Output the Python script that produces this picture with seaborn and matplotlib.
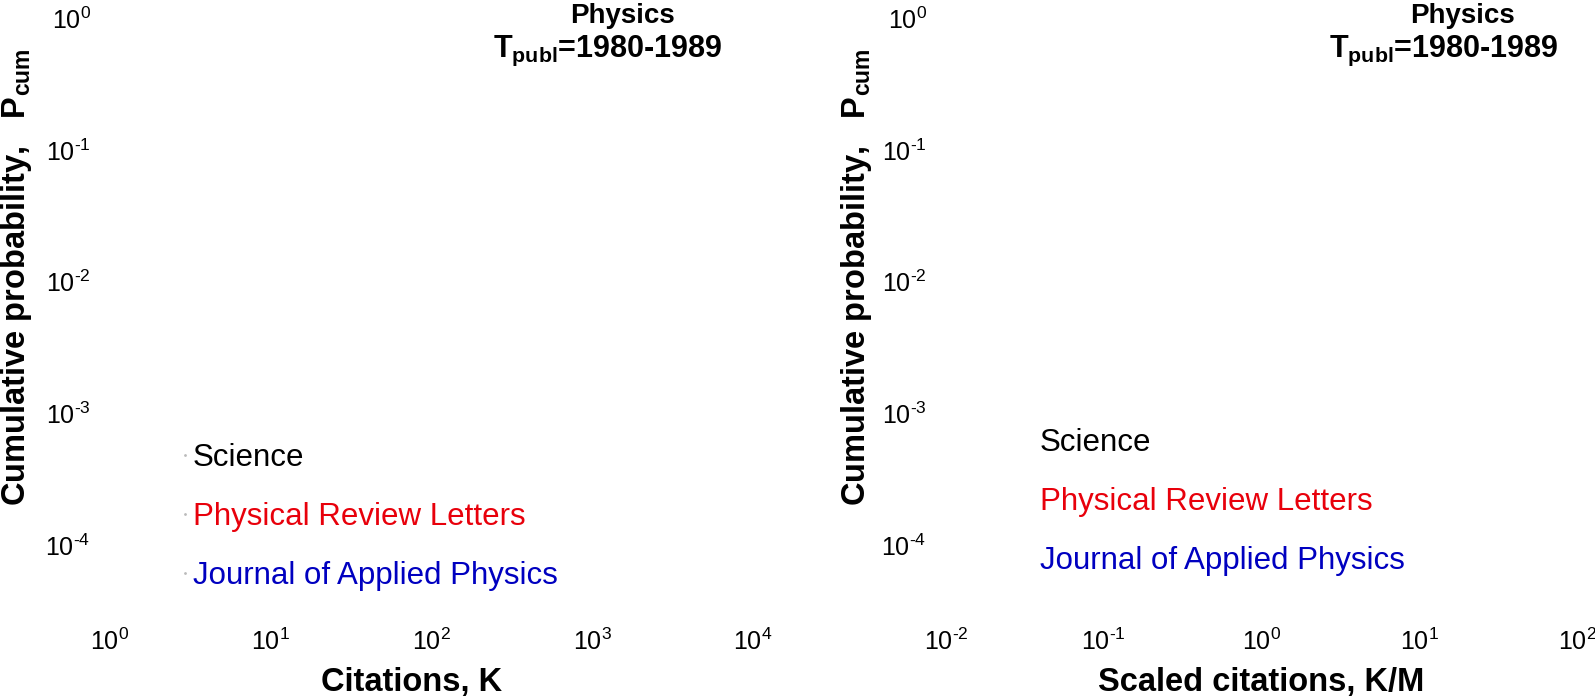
import matplotlib
matplotlib.use("Agg")
import matplotlib.pyplot as plt
from matplotlib import font_manager as fm
from matplotlib.lines import Line2D
from matplotlib.ticker import FuncFormatter
import numpy as np
import seaborn as sns

# ---- data (no visible curves in the reference; only legend entries) ----
journals = ["Science", "Physical Review Letters", "Journal of Applied Physics"]
journal_colors = ["#000000", "#e8000b", "#0000c0"]
left_xticks = [1e0, 1e1, 1e2, 1e3, 1e4]
right_xticks = [1e-2, 1e-1, 1e0, 1e1, 1e2]
yticks = [1e-4, 1e-3, 1e-2, 1e-1, 1e0]
ylim = (10 ** -4.5, 1e0)
left_xlabel = "Citations, K"
right_xlabel = "Scaled citations, K/M"
ylabel = r"Cumulative probability,   P$_\mathdefault{cum}$"
field = "Physics"
period = "1980-1989"

sns.set_theme(style="white")
names = {f.name for f in fm.fontManager.ttflist}
NARROW = "Liberation Sans Narrow" if "Liberation Sans Narrow" in names else "Liberation Sans"
REG = "Liberation Sans"
plt.rcParams["font.family"] = [REG, "DejaVu Sans"]
plt.rcParams["text.color"] = "black"
plt.rcParams["axes.unicode_minus"] = False

W, H = 1595, 699
fig = plt.figure(figsize=(W / 100, H / 100), dpi=100)


def px(x, y):
    return x / W, 1 - y / H


def pow10(v, pos=None):
    e = int(round(np.log10(v)))
    s = ("\u2010%d" % -e) if e < 0 else "%d" % e
    return r"$\mathdefault{10^{%s}}$" % s


top_px, bot_px = 18.3, 611
panels = [
    dict(x0=110, x1=753, xt=left_xticks, xl=left_xlabel, xlab_x=412, ylab_x=17,
         t1=(623, 16), t2=(608, 51), leg=(182, 443), dots=True),
    dict(x0=946, x1=1577, xt=right_xticks, xl=right_xlabel, xlab_x=1261, ylab_x=857,
         t1=(1462, 16), t2=(1444, 51), leg=(1029, 428), dots=False),
]

for p in panels:
    ax = fig.add_axes([p["x0"] / W, 1 - bot_px / H, (p["x1"] - p["x0"]) / W, (bot_px - top_px) / H])
    ax.set_xscale("log")
    ax.set_yscale("log")
    ax.set_xlim(p["xt"][0], p["xt"][-1])
    ax.set_ylim(*ylim)
    ax.set_xticks(p["xt"])
    ax.set_yticks(yticks)
    ax.minorticks_off()
    ax.xaxis.set_major_formatter(FuncFormatter(pow10))
    ax.yaxis.set_major_formatter(FuncFormatter(pow10))
    sns.despine(ax=ax, left=True, bottom=True)
    ax.tick_params(axis="both", length=0, labelsize=18, colors="black")
    ax.tick_params(axis="x", pad=13)
    ax.tick_params(axis="y", pad=14)
    for lbl in ax.get_xticklabels() + ax.get_yticklabels():
        lbl.set_fontfamily(NARROW)
    ax.patch.set_alpha(0)

    fig.text(*px(p["xlab_x"], 682), p["xl"], ha="center", va="center",
             fontsize=23.5, fontweight="bold", family=NARROW)
    fig.text(*px(p["ylab_x"], 277), ylabel,
             rotation=90, ha="center", va="center", fontsize=23.5, fontweight="bold", family=REG)
    fig.text(*px(*p["t1"]), field, ha="center", va="center",
             fontsize=20, fontweight="bold", family=NARROW)
    fig.text(*px(*p["t2"]), r"T$_\mathdefault{publ}$=" + period, ha="center", va="center",
             fontsize=22, fontweight="bold", family=NARROW)

    handles = [Line2D([], [], color="#bbbbbb", marker=".", markersize=2 if p["dots"] else 0,
                      linestyle="none") for _ in journals]
    ax.legend(handles, journals, loc="upper left", bbox_to_anchor=px(*p["leg"]),
              bbox_transform=fig.transFigure, frameon=False, fontsize=22.5,
              borderpad=0, borderaxespad=0, handlelength=0.2, handletextpad=0.15,
              labelspacing=0.93, labelcolor=journal_colors)

fig.savefig("out.png", dpi=100)
